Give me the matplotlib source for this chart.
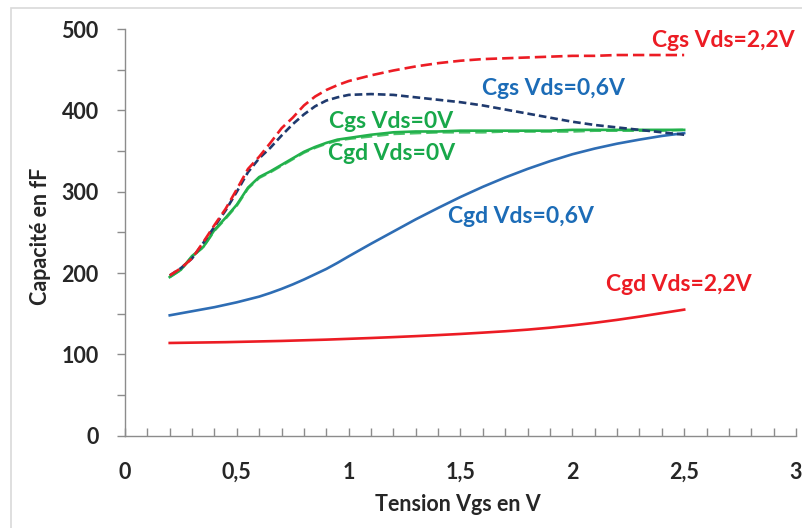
import matplotlib
matplotlib.use("Agg")
import matplotlib.pyplot as plt
from matplotlib.patches import Rectangle
from matplotlib.ticker import MultipleLocator, FuncFormatter

plt.rcParams['font.family'] = ['Lato', 'DejaVu Sans']
plt.rcParams['font.weight'] = 'bold'
plt.rcParams['axes.labelweight'] = 'bold'

# Vgs sweep (V)
vgs = [0.2, 0.25, 0.3, 0.35, 0.4, 0.45, 0.5, 0.55, 0.6, 0.65, 0.7, 0.75,
       0.8, 0.85, 0.9, 0.95, 1.0, 1.1, 1.2, 1.3, 1.4, 1.5, 1.6, 1.7, 1.8,
       1.9, 2.0, 2.1, 2.2, 2.3, 2.4, 2.5]

# capacitances in fF
cgs_22 = [197, 206, 218, 238, 259, 279, 303, 328, 343, 360, 378, 391,
          406, 417, 425, 431, 436, 443, 449, 454, 458, 461, 463, 464, 465,
          466, 467, 467, 468, 468, 468, 468]
cgs_06 = [197, 206, 218, 237, 257, 277, 300, 324, 341, 354, 369, 383,
          395, 405, 412, 416, 419, 420, 419, 416, 413, 410, 406, 401, 396,
          391, 386, 382, 379, 376, 373, 370]
cgs_0 = [195, 204, 221, 232, 253, 268, 284, 305, 318, 325, 333, 341,
         349, 355, 360, 364, 366, 370, 373, 374, 374, 375, 375, 375, 375,
         375, 376, 376, 376, 376, 376, 376]
cgd_0 = [195, 204, 220, 232, 252, 267, 283, 304, 317, 324, 332, 340,
         348, 354, 359, 363, 365, 368, 371, 372, 373, 373, 373, 374, 374,
         374, 374, 375, 375, 375, 375, 376]
cgd_06 = [148, 150.5, 153, 155.5, 158, 161, 164, 167.5, 171, 175.5, 180.5,
          186, 192, 198.5, 205, 212.5, 220.5, 236, 251, 266, 280, 293.5,
          306, 317.5, 328, 337.5, 346, 353, 359, 364, 368.5, 372]
cgd_22 = [114.0, 114.2, 114.4, 114.6, 114.8, 115.0, 115.3, 115.6, 115.9,
          116.2, 116.5, 116.9, 117.3, 117.7, 118.1, 118.6, 119.1, 120.1,
          121.2, 122.4, 123.7, 125.1, 126.7, 128.4, 130.4, 132.8, 135.6,
          138.8, 142.4, 146.4, 150.7, 155.0]

RED = '#EC1C24'
BLUE = '#2E6DB4'
NAVY = '#1F3A6E'
GREEN = '#22B14C'
GREEN_TXT = '#18A84A'
BLUE_TXT = '#1C6CB7'
DARK = '#262626'

fig = plt.figure(figsize=(8.03, 5.28), dpi=100)
ax = fig.add_axes([125 / 803, 1 - 435.7 / 528, 671 / 803, 406.7 / 528])

LW = 1.9
ax.plot(vgs, cgd_22, color=RED, lw=LW)
ax.plot(vgs, cgd_06, color=BLUE, lw=LW)
ax.plot(vgs, cgd_0, color='#4CC36A', lw=LW, dashes=(4.3, 1.9))
ax.plot(vgs, cgs_0, color=GREEN, lw=LW)
ax.plot(vgs, cgs_06, color=NAVY, lw=LW, dashes=(2.9, 1.5))
ax.plot(vgs, cgs_22, color=RED, lw=LW, dashes=(4.3, 1.9))

ax.set_xlim(0, 3)
ax.set_ylim(0, 500)
ax.xaxis.set_major_locator(MultipleLocator(0.5))
ax.xaxis.set_minor_locator(MultipleLocator(0.1))
ax.yaxis.set_major_locator(MultipleLocator(100))
ax.yaxis.set_minor_locator(MultipleLocator(50))
ax.xaxis.set_major_formatter(FuncFormatter(lambda v, p: ('%g' % v).replace('.', ',')))

for s in ['top', 'right']:
    ax.spines[s].set_visible(False)
for s in ['left', 'bottom']:
    ax.spines[s].set_color('#8C8C8C')
    ax.spines[s].set_linewidth(1.0)

ax.tick_params(axis='x', which='both', direction='in', length=6, width=1,
               color='#8C8C8C', pad=19, labelsize=15.5, labelcolor=DARK)
ax.tick_params(axis='y', which='both', direction='out', length=6, width=1,
               color='#8C8C8C', pad=13, labelsize=15.5, labelcolor=DARK)

ax.set_xlabel('Tension Vgs en V', fontsize=15.5, color=DARK)
ax.set_ylabel('Capacité en fF', fontsize=15.5, color=DARK)
ax.xaxis.set_label_coords(0.496, -0.143)
ax.yaxis.set_label_coords(-0.11, 0.49)

# curve labels
lbl = dict(fontsize=16.5, fontweight='bold', ha='center', va='center')
ax.text(2.675, 486, 'Cgs Vds=2,2V', color=RED, **lbl)
ax.text(1.915, 427, 'Cgs Vds=0,6V', color=BLUE_TXT, **lbl)
ax.text(1.19, 386, 'Cgs Vds=0V', color=GREEN_TXT, **lbl)
ax.text(1.19, 347, 'Cgd Vds=0V', color=GREEN_TXT, **lbl)
ax.text(1.768, 270, 'Cgd Vds=0,6V', color=BLUE_TXT, **lbl)
ax.text(2.477, 186, 'Cgd Vds=2,2V', color=RED, **lbl)

# chart area border
fig.patches.append(Rectangle((11 / 803, -0.05), 1.2, 1 - 8 / 528 + 0.05,
                             transform=fig.transFigure, fill=False,
                             edgecolor='#D9D9D9', lw=1.2))

fig.savefig('out.png', dpi=100)
